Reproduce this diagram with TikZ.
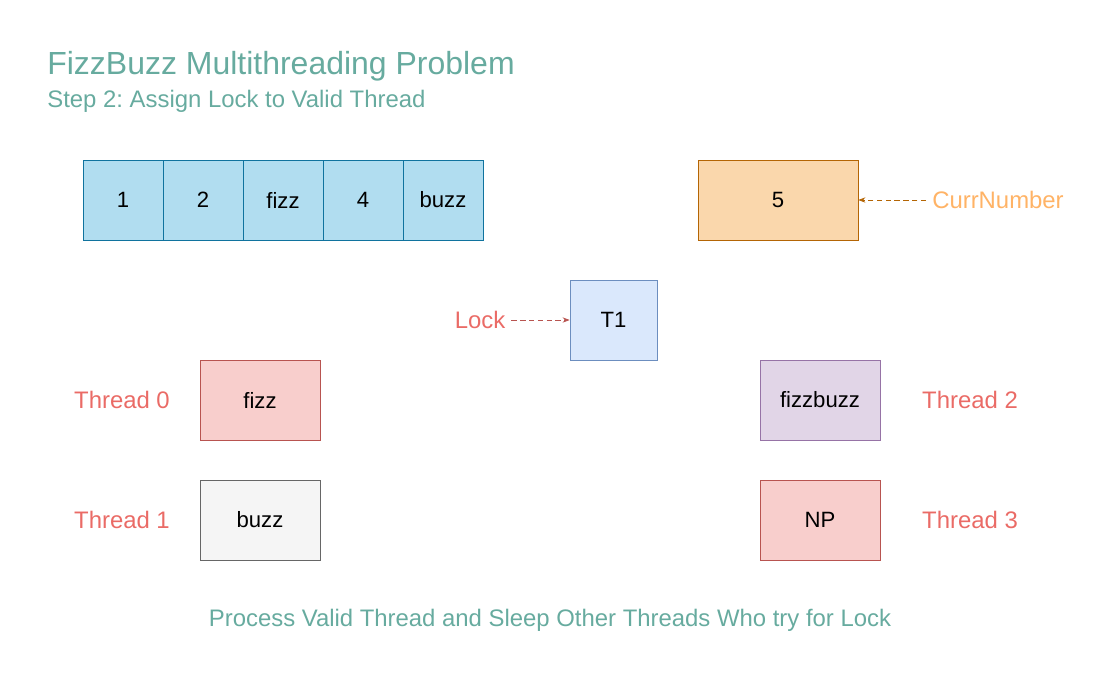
\documentclass[tikz,border=0pt]{standalone}
\usepackage{fontspec}
\setmainfont{Liberation Sans}
\usetikzlibrary{arrows.meta}
\frenchspacing
\definecolor{arrF}{HTML}{B1DDF0}\definecolor{arrD}{HTML}{10739E}
\definecolor{orF}{HTML}{FAD7AC}\definecolor{orD}{HTML}{B46504}
\definecolor{blF}{HTML}{DAE8FC}\definecolor{blD}{HTML}{6C8EBF}
\definecolor{rdF}{HTML}{F8CECC}\definecolor{rdD}{HTML}{B85450}
\definecolor{gyF}{HTML}{F5F5F5}\definecolor{gyD}{HTML}{666666}
\definecolor{puF}{HTML}{E1D5E7}\definecolor{puD}{HTML}{9673A6}
\definecolor{grT}{HTML}{67AB9F}\definecolor{rdT}{HTML}{EA6B66}\definecolor{orT}{HTML}{FFB366}
\begin{document}
\begin{tikzpicture}[x=0.02cm,y=-0.02cm,
  box/.style={draw, minimum width=#1*0.02cm, minimum height=1.6cm, inner sep=0pt, font=\fontsize{12.6}{14}\selectfont, line width=0.4pt},
  cell/.style={box=80, fill=arrF, draw=arrD},
  lbl/.style={font=\fontsize{13.6}{16}\selectfont, text=rdT},
  dar/.style={-{Stealth[length=4pt,width=3pt]}, densely dashed, line width=0.4pt}]
\useasboundingbox (0,0) rectangle (1100,700);
\node[anchor=west, inner sep=0pt, text=grT, font=\fontsize{18.2}{21}\selectfont] (title) at (47,66) {FizzBuzz Multithreading Problem};
\node[anchor=west, inner sep=0pt, text=grT, font=\fontsize{13.6}{16}\selectfont] (sub) at (47,101) {Step 2: Assign Lock to Valid Thread};
\node[cell] (c1) at (123,200) {1};
\node[cell] (c2) at (203,200) {2};
\node[cell] (c3) at (283,200) {fizz};
\node[cell] (c4) at (363,200) {4};
\node[cell] (c5) at (443,200) {buzz};
\node[box=160, fill=orF, draw=orD] (five) at (778,200) {5};
\node[font=\fontsize{13.6}{16}\selectfont, text=orT] (cn) at (998,200) {CurrNumber};
\draw[dar, orD] (cn.west) -- (five.east);
\node[box=87, fill=blF, draw=blD] (t1) at (613.5,320) {T1};
\node[lbl] (lock) at (480,320) {Lock};
\draw[dar, rdD] (lock.east) -- (t1.west);
\node[box=120, fill=rdF, draw=rdD] (fz) at (260,400) {fizz};
\node[lbl] (th0) at (122,400) {Thread 0};
\node[box=120, fill=gyF, draw=gyD] (bz) at (260,520) {buzz};
\node[lbl] (th1) at (122,520) {Thread 1};
\node[box=120, fill=puF, draw=puD] (fb) at (820,400) {fizzbuzz};
\node[lbl] (th2) at (970,400) {Thread 2};
\node[box=120, fill=rdF, draw=rdD] (np) at (820,520) {NP};
\node[lbl] (th3) at (970,520) {Thread 3};
\node[text=grT, font=\fontsize{13.6}{16}\selectfont] (foot) at (550,620) {Process Valid Thread and Sleep Other Threads Who try for Lock};
\end{tikzpicture}
\end{document}
